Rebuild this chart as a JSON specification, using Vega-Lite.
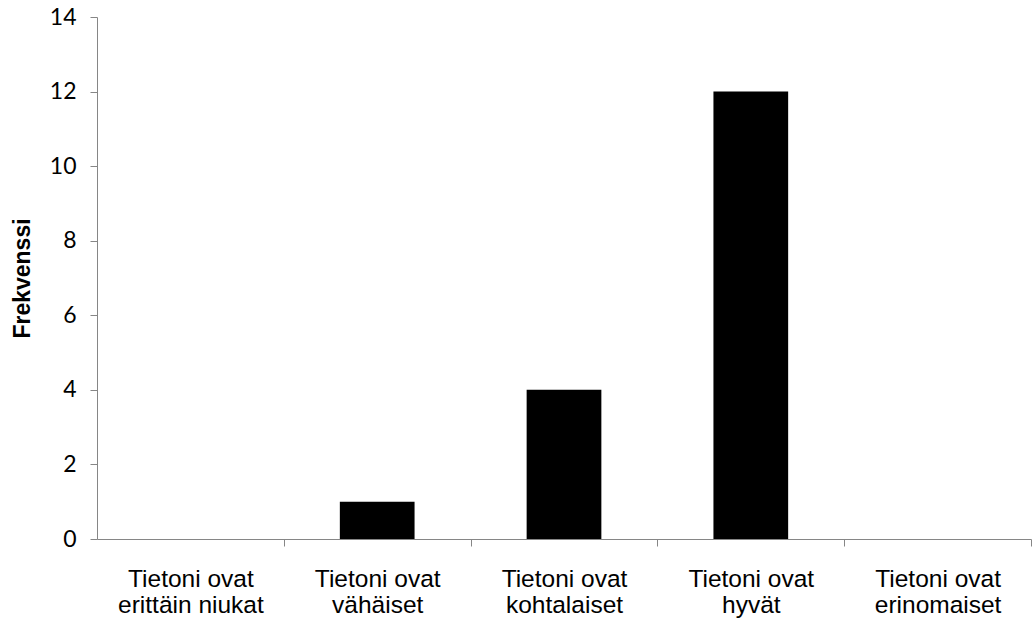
{
  "$schema": "https://vega.github.io/schema/vega-lite/v6.json",
  "autosize": "none",
  "width": 934,
  "height": 522,
  "padding": {"left": 97, "top": 17, "right": 4, "bottom": 80},
  "background": "white",
  "config": {"view": {"stroke": null}},
  "data": {
    "values": [
      {"kategoria": "Tietoni ovat erittäin niukat", "frekvenssi": 0},
      {"kategoria": "Tietoni ovat vähäiset", "frekvenssi": 1},
      {"kategoria": "Tietoni ovat kohtalaiset", "frekvenssi": 4},
      {"kategoria": "Tietoni ovat hyvät", "frekvenssi": 12},
      {"kategoria": "Tietoni ovat erinomaiset", "frekvenssi": 0}
    ]
  },
  "mark": {"type": "bar", "color": "black"},
  "encoding": {
    "x": {
      "field": "kategoria",
      "type": "nominal",
      "sort": null,
      "scale": {"paddingInner": 0.6, "paddingOuter": 0.3},
      "axis": {
        "title": null,
        "labelAngle": 0,
        "labelExpr": "[slice(datum.label,0,12), slice(datum.label,13)]",
        "labelFont": "Liberation Sans",
        "labelFontSize": 24.5,
        "labelColor": "black",
        "labelLineHeight": 26,
        "labelPadding": 21,
        "tickOffset": 93.4,
        "labelOffset": -93.4,
        "tickSize": 7,
        "tickColor": "#868686",
        "domainColor": "#868686",
        "grid": false
      }
    },
    "y": {
      "field": "frekvenssi",
      "type": "quantitative",
      "scale": {"domain": [0, 14], "nice": false},
      "axis": {
        "title": "Frekvenssi",
        "titleFont": "Liberation Sans",
        "titleFontSize": 23,
        "titleFontWeight": "bold",
        "titleColor": "black",
        "titlePadding": 15,
        "values": [0, 2, 4, 6, 8, 10, 12, 14],
        "labelFont": "Lato",
        "labelFontSize": 23,
        "labelColor": "black",
        "labelPadding": 14,
        "tickSize": 7,
        "tickColor": "#868686",
        "domainColor": "#868686",
        "grid": false
      }
    }
  }
}
